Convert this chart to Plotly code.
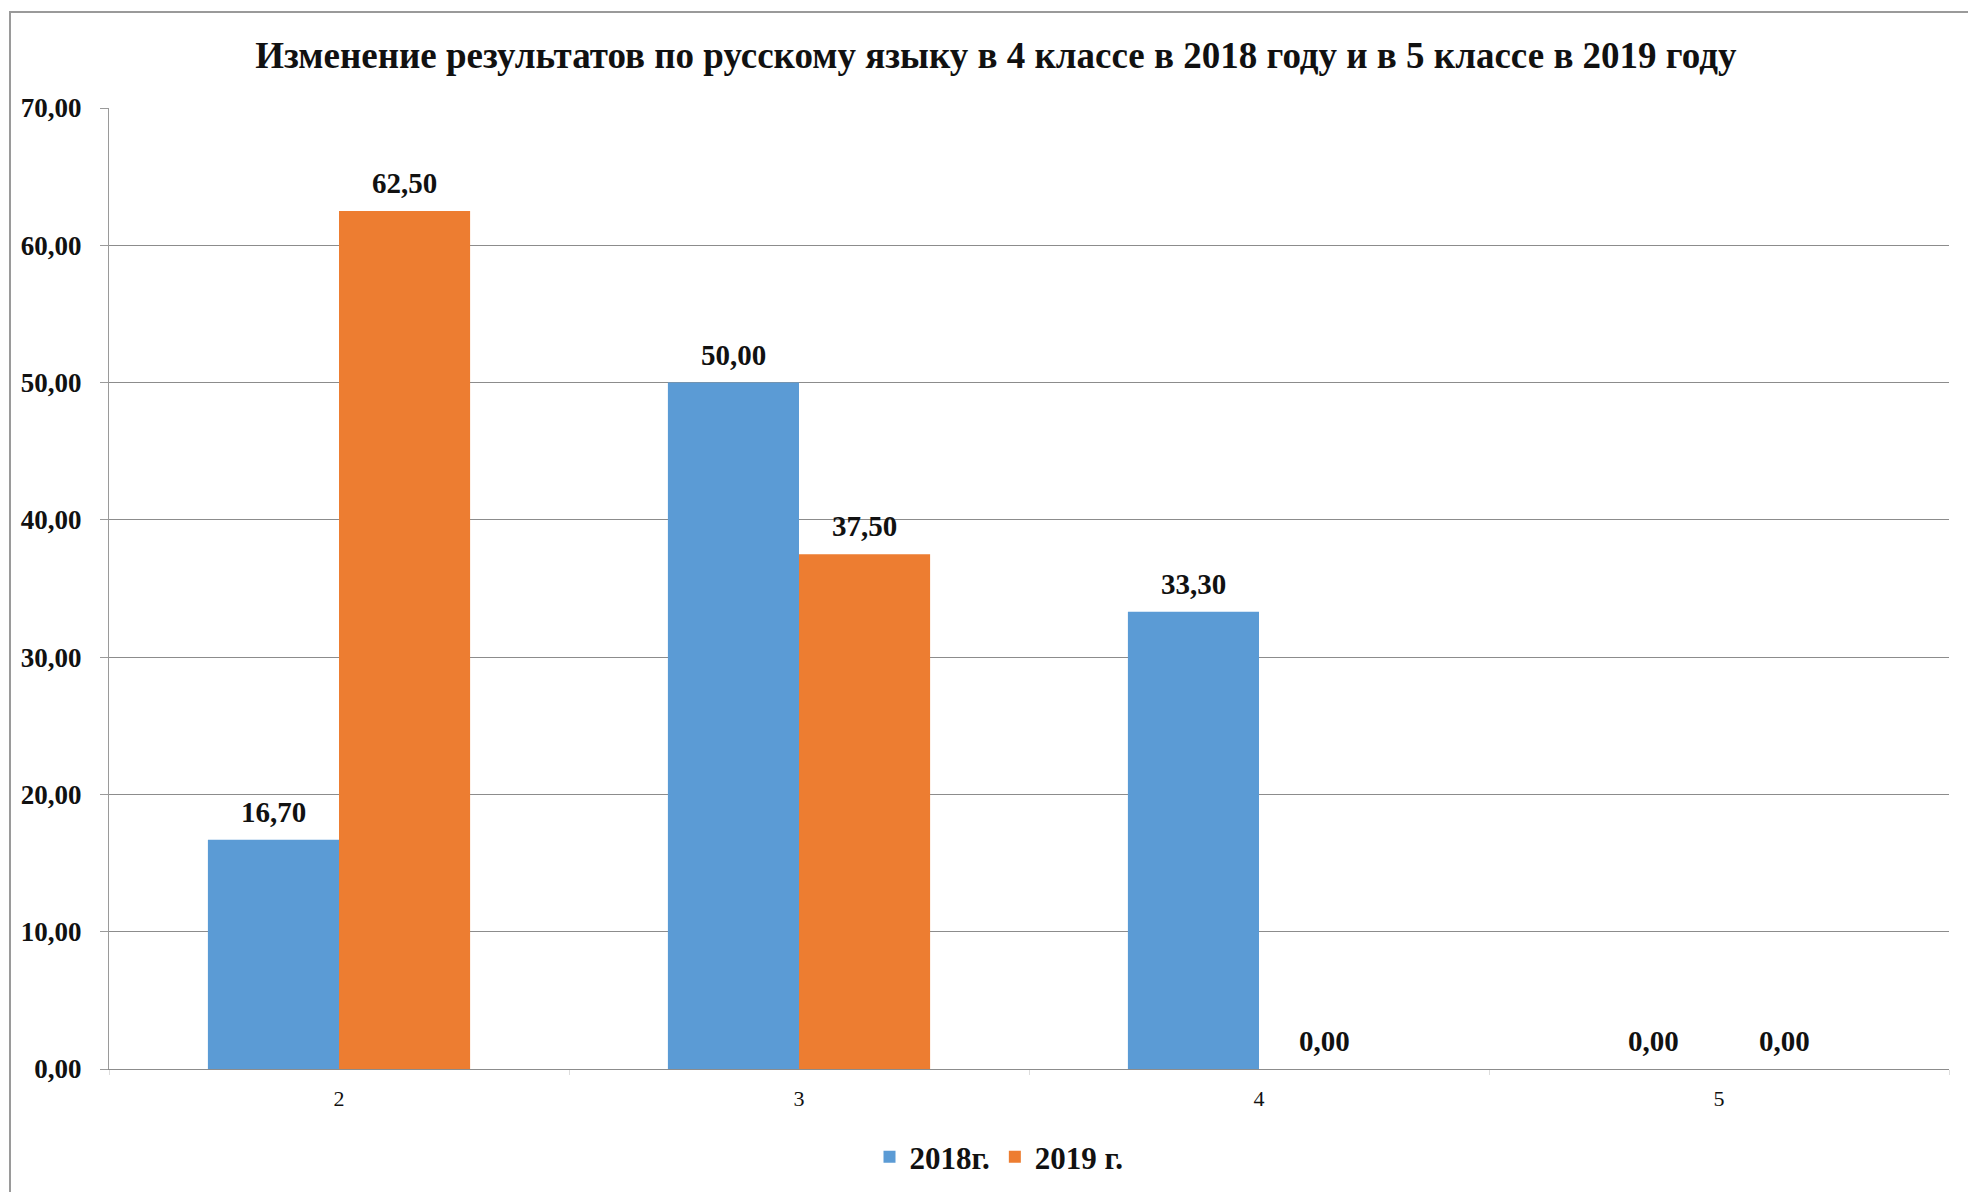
import plotly.graph_objects as go

categories = ["2", "3", "4", "5"]
series_2018 = [16.70, 50.00, 33.30, 0.00]
series_2019 = [62.50, 37.50, 0.00, 0.00]
y_ticks = [0, 10, 20, 30, 40, 50, 60, 70]
title_text = "Изменение результатов по русскому языку в 4 классе в 2018 году и в 5 классе в 2019 году"

FONT = "Liberation Serif"
W, H = 1968, 1192
L, R, T, B = 109, 19, 108, 123
PH = H - T - B
PW = W - L - R
BARGAP = 0.43

series = [("2018г.", series_2018, "#5B9BD5"), ("2019 г.", series_2019, "#ED7D31")]

fig = go.Figure()
for name, vals, color in series:
    fig.add_trace(go.Bar(
        x=categories, y=vals, name=name,
        marker=dict(color=color, line=dict(width=0)),
    ))

# data labels placed above each bar (derived from the data arrays)
n = len(series)
bw = (1 - BARGAP) / n
for i, (name, vals, color) in enumerate(series):
    off = -(1 - BARGAP) / 2 + bw * (i + 0.5)
    for j, v in enumerate(vals):
        fig.add_annotation(
            x=j + off, y=v, xref="x", yref="y",
            text=f"{v:.2f}".replace(".", ","), showarrow=False,
            yanchor="middle", yshift=28,
            font=dict(family=FONT, size=29, color="#111111", weight="bold"),
        )

fig.update_layout(
    width=W, height=H,
    paper_bgcolor="white", plot_bgcolor="white",
    separators=", ",
    barmode="group", bargap=BARGAP, bargroupgap=0,
    margin=dict(l=L, r=R, t=T, b=B, autoexpand=False),
    title=dict(text=title_text, x=0.506, xanchor="center", y=1 - 55/H, yanchor="middle",
               font=dict(family=FONT, size=37, color="#111111", weight="bold")),
    legend=dict(orientation="h", x=(999 - L)/PW, xanchor="center", y=-(1157 - 1069)/PH, yanchor="middle",
                font=dict(family=FONT, size=31, color="#111111", weight="bold"),
                itemwidth=30, traceorder="normal"),
    showlegend=True,
    font=dict(family=FONT),
)
fig.update_yaxes(
    range=[0, 70], tickvals=y_ticks, tickformat=".2f",
    showgrid=True, gridcolor="#8C8C8C", gridwidth=1,
    showline=True, linecolor="#9A9A9A", linewidth=1,
    ticks="outside", ticklen=8, tickcolor="#9A9A9A",
    tickfont=dict(family=FONT, size=27, color="#111111", weight="bold"),
    ticklabelstandoff=13,
    zeroline=False,
)
fig.update_xaxes(
    showline=True, linecolor="#8C8C8C", linewidth=1,
    ticks="outside", tickson="boundaries", ticklen=5, tickcolor="#DDDDDD",
    showgrid=False,
    tickfont=dict(family=FONT, size=22, color="#111111"),
    ticklabelstandoff=10,
)
fig.add_shape(type="rect", xref="paper", yref="paper",
              x0=-(L - 10)/PW, x1=1 + (R + 20)/PW, y0=-(B + 40)/PH, y1=1 + (T - 12)/PH,
              line=dict(color="#9A9A9A", width=2), fillcolor="rgba(0,0,0,0)", layer="below")

fig.write_html("out.html", config={"displayModeBar": False},
               post_script="document.body.style.margin='0';")
